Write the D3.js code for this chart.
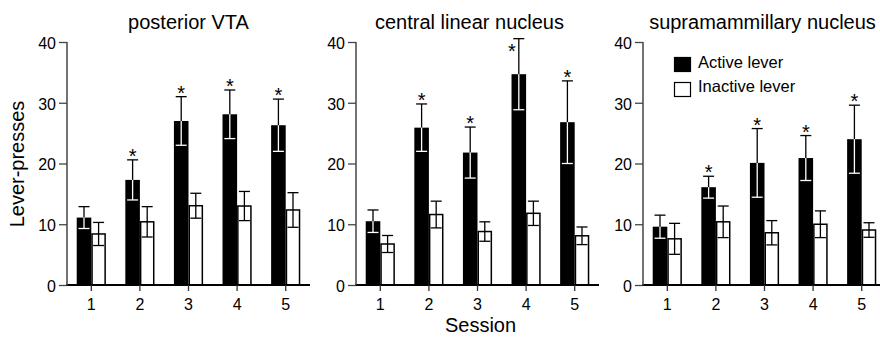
<!DOCTYPE html>
<html>
<head>
<meta charset="utf-8">
<script src="https://cdn.jsdelivr.net/npm/d3@7"></script>
<style>
  body { margin: 0; background: #fff; }
  text { font-family: "Liberation Sans", Arial, sans-serif; fill: #000; }
</style>
</head>
<body>
<div id="chart"></div>
<script>
// ---- data ----
var sessions = ["1", "2", "3", "4", "5"];
var panelTitles = ["posterior VTA", "central linear nucleus", "supramammillary nucleus"];
var seriesNames = ["Active lever", "Inactive lever"];
var yTicks = [0, 10, 20, 30, 40];

// means and SEM per panel, per session
var activeMean = [
  [11.1, 17.3, 27.0, 28.1, 26.3],
  [10.5, 25.9, 21.8, 34.7, 26.8],
  [9.6, 16.1, 20.1, 20.9, 24.0]
];
var activeSem = [
  [1.8, 3.3, 4.0, 4.0, 4.3],
  [1.85, 3.9, 4.2, 5.85, 6.8],
  [1.9, 1.8, 5.65, 3.7, 5.6]
];
var inactiveMean = [
  [8.4, 10.4, 13.05, 13.0, 12.35],
  [6.75, 11.6, 8.8, 11.8, 8.1],
  [7.6, 10.4, 8.6, 10.0, 9.05]
];
var inactiveSem = [
  [1.9, 2.5, 2.05, 2.4, 2.85],
  [1.4, 2.2, 1.6, 2.0, 1.45],
  [2.55, 2.6, 2.0, 2.2, 1.2]
];
// asterisk above active bar
var significant = [
  [0, 1, 1, 1, 1],
  [0, 1, 1, 1, 1],
  [0, 1, 1, 1, 1]
];

// ---- layout ----
var width = 880, height = 337;
var panelLeft = [67, 356, 643];
var panelWidth = 243;
var yBottom = 285, yTop = 42;
var titleShift = [0, -8, -2];

var svg = d3.select("#chart").append("svg")
  .attr("width", width)
  .attr("height", height);

var y = d3.scaleLinear().domain([0, 40]).range([yBottom, yTop]);

panelTitles.forEach(function(title, p) {
  var g = svg.append("g");
  var x0 = d3.scaleBand()
    .domain(sessions)
    .range([panelLeft[p], panelLeft[p] + panelWidth])
    .paddingInner(0.4)
    .paddingOuter(0.2);
  var x1 = d3.scaleBand().domain(seriesNames).range([0, x0.bandwidth()]);

  var rows = sessions.map(function(s, i) {
    return {
      session: s,
      vals: [
        { name: seriesNames[0], mean: activeMean[p][i], sem: activeSem[p][i] },
        { name: seriesNames[1], mean: inactiveMean[p][i], sem: inactiveSem[p][i] }
      ],
      sig: significant[p][i]
    };
  });

  var groups = g.selectAll("g.grp").data(rows).enter().append("g")
    .attr("class", "grp")
    .attr("transform", function(d) { return "translate(" + x0(d.session) + ",0)"; });

  // bars
  groups.selectAll("rect").data(function(d) { return d.vals; }).enter().append("rect")
    .attr("x", function(d, i) { return x1(d.name) + (i === 1 ? 0.75 : 0); })
    .attr("y", function(d) { return y(d.mean); })
    .attr("width", function(d, i) { return x1.bandwidth() - (i === 1 ? 1.5 : 0); })
    .attr("height", function(d) { return y(0) - y(d.mean); })
    .attr("fill", function(d, i) { return i === 0 ? "#000" : "#fff"; })
    .attr("stroke", function(d, i) { return i === 0 ? "none" : "#000"; })
    .attr("stroke-width", 1.5);

  // error bars: up part in black, down part (inside bar) white for active
  var capW = 11;
  groups.each(function(d) {
    var gg = d3.select(this);
    d.vals.forEach(function(v, i) {
      var cx = x1(v.name) + x1.bandwidth() / 2;
      var inside = i === 0 ? "#fff" : "#000";
      [[v.mean + v.sem, "#000"], [v.mean - v.sem, inside]].forEach(function(e) {
        gg.append("line")
          .attr("x1", cx).attr("x2", cx)
          .attr("y1", y(v.mean)).attr("y2", y(e[0]))
          .attr("stroke", e[1]).attr("stroke-width", 1.3);
        gg.append("line")
          .attr("x1", cx - capW / 2).attr("x2", cx + capW / 2)
          .attr("y1", y(e[0])).attr("y2", y(e[0]))
          .attr("stroke", e[1]).attr("stroke-width", 1.3);
      });
    });
    if (d.sig) {
      var a = d.vals[0];
      var ax = x1(a.name) + x1.bandwidth() / 2;
      var capY = y(a.mean + a.sem);
      var crowded = a.mean + a.sem > 38;
      gg.append("text")
        .attr("x", crowded ? ax - 7 : ax)
        .attr("y", crowded ? capY + 19 : capY + 3)
        .attr("text-anchor", "middle")
        .style("font-size", "20px")
        .text("*");
    }
  });

  // axes
  var xAxis = g.append("g")
    .attr("transform", "translate(0," + yBottom + ")")
    .call(d3.axisBottom(x0).tickSize(6).tickPadding(4));
  xAxis.select(".domain").attr("d", "M" + (panelLeft[p] - 1) + ",0H" + (panelLeft[p] + panelWidth))
    .attr("stroke", "#000").attr("stroke-width", 2);
  xAxis.selectAll(".tick line").attr("stroke", "#333").attr("stroke-width", 1.3);
  xAxis.selectAll(".tick text").style("font-size", "16px").attr("dy", "0.95em");

  var yAxis = g.append("g")
    .attr("transform", "translate(" + panelLeft[p] + ",0)")
    .call(d3.axisLeft(y).tickValues(yTicks).tickSize(8).tickPadding(3));
  yAxis.select(".domain").attr("d", "M0," + yBottom + "V" + yTop)
    .attr("stroke", "#444").attr("stroke-width", 1.5);
  yAxis.selectAll(".tick line").attr("stroke", "#444").attr("stroke-width", 1.3);
  yAxis.selectAll(".tick text").style("font-size", "16px").attr("dy", "0.4em");

  // title
  g.append("text")
    .attr("x", panelLeft[p] + panelWidth / 2 + titleShift[p])
    .attr("y", 29)
    .attr("text-anchor", "middle")
    .style("font-size", "20px")
    .text(title);
});

// y label
svg.append("text")
  .attr("transform", "translate(24,164) rotate(-90)")
  .attr("text-anchor", "middle")
  .style("font-size", "20px")
  .text("Lever-presses");

// x label
svg.append("text")
  .attr("x", 480.5)
  .attr("y", 332)
  .attr("text-anchor", "middle")
  .style("font-size", "20px")
  .text("Session");

// legend
var legend = svg.append("g").attr("transform", "translate(674,57)");
seriesNames.forEach(function(name, i) {
  legend.append("rect")
    .attr("x", 0.5).attr("y", i * 25 + 0.5)
    .attr("width", 16).attr("height", 14)
    .attr("fill", i === 0 ? "#000" : "#fff")
    .attr("stroke", "#000").attr("stroke-width", 1.2);
  legend.append("text")
    .attr("x", 24).attr("y", i * 24.5 + 10.5)
    .style("font-size", "16.5px")
    .text(name);
});
</script>
</body>
</html>
